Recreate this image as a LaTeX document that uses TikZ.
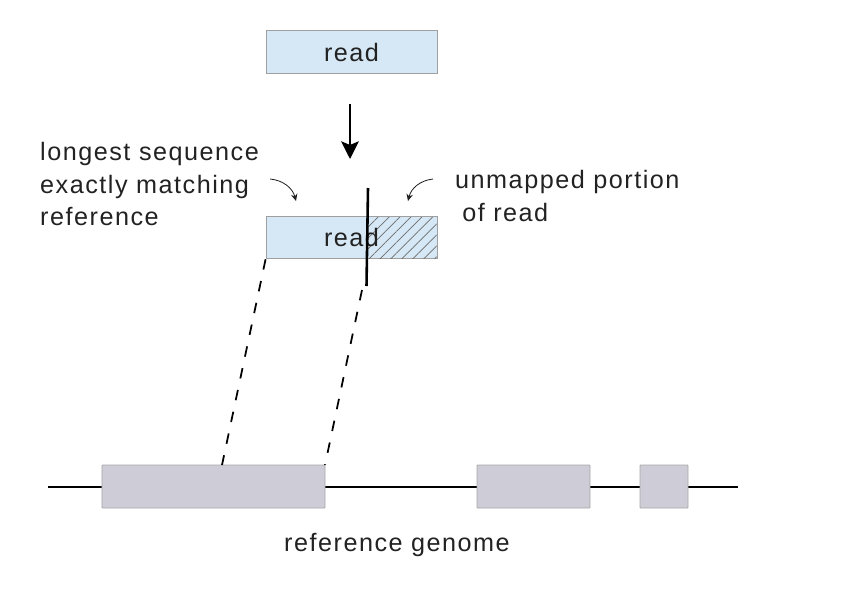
\documentclass[tikz,border=0pt]{standalone}
\usepackage{fontspec}
\setmainfont{Liberation Sans}[LetterSpace=6]
\usetikzlibrary{arrows.meta,patterns.meta}

\definecolor{readblue}{HTML}{D6E8F6}
\definecolor{exongray}{HTML}{CECDD7}
\definecolor{textgray}{HTML}{222222}

\tikzset{
  readbox/.style={draw=gray!75, line width=0.7pt, fill=readblue, inner sep=0pt,
    minimum width=5.13cm, minimum height=1.28cm},
  exonbox/.style={draw=gray!70, line width=0.7pt, fill=exongray, inner sep=0pt,
    minimum height=1.29cm, rounded corners=0.6pt},
  lbl/.style={text=textgray, font=\fontsize{21.5}{27.5}\selectfont, inner sep=0pt},
  hint/.style={-{Stealth[length=6pt,width=5.5pt]}, line width=0.7pt, textgray},
  matchline/.style={line width=1.5pt, dash pattern=on 9pt off 10pt}
}

\begin{document}
\begin{tikzpicture}[x=0.03cm,y=-0.03cm]
\useasboundingbox (0,0) rectangle (842,606);
% read before mapping
\node[readbox] (read) at (351.5,52) {};
\node[lbl] (readtxt) at (read.center) {read};
\draw[line width=2.2pt, -{Stealth[length=15pt,width=15pt,inset=3pt]}] (350,104) coordinate (arrtop) -- (350,159) coordinate (arrbot);

% read after mapping
\node[readbox] (lread) at (351.5,237.5) {};
\path[pattern={Lines[angle=45,distance=6.6pt,line width=0.6pt]}, pattern color=gray!85!black]
  (368,217) rectangle (436.5,258.5);
\node[lbl] (lreadtxt) at (lread.center) {read};
\coordinate (cuttop) at (368,188);
\coordinate (cutbot) at (366.5,286);
\draw[line width=2.2pt] (cuttop) -- (cutbot);

% labels
\node[lbl, align=left, anchor=west] (longest) at (40,184)
  {longest sequence\\exactly matching\\reference};
\node[lbl, align=left, anchor=west] (unmapped) at (455,196)
  {unmapped portion\\\hspace{6pt}of read};
\coordinate (la) at (270,179);
\coordinate (lb) at (296,201);
\coordinate (ra) at (433,179);
\coordinate (rb) at (408,201);
\draw[hint] (la) to[bend left=35] (lb);
\draw[hint] (ra) to[bend right=35] (rb);

% reference genome
\coordinate (gl) at (48,487);
\coordinate (gr) at (738,487);
\draw[line width=1.6pt] (gl) -- (gr);
\foreach \name/\cx/\w in {exonA/213.5/6.69, exonB/533.5/3.39, exonC/664/1.44}{
  \node[exonbox, minimum width=\w cm] (\name) at (\cx,486.5) {};
}
\node[lbl] (genome) at (397,545) {reference genome};

% matching part of the read
\coordinate (ma) at (222,465);
\coordinate (mb) at (325,465);
\draw[matchline] (lread.south west) -- (ma);
\draw[matchline] (362,290) -- (mb);
\end{tikzpicture}
\end{document}
